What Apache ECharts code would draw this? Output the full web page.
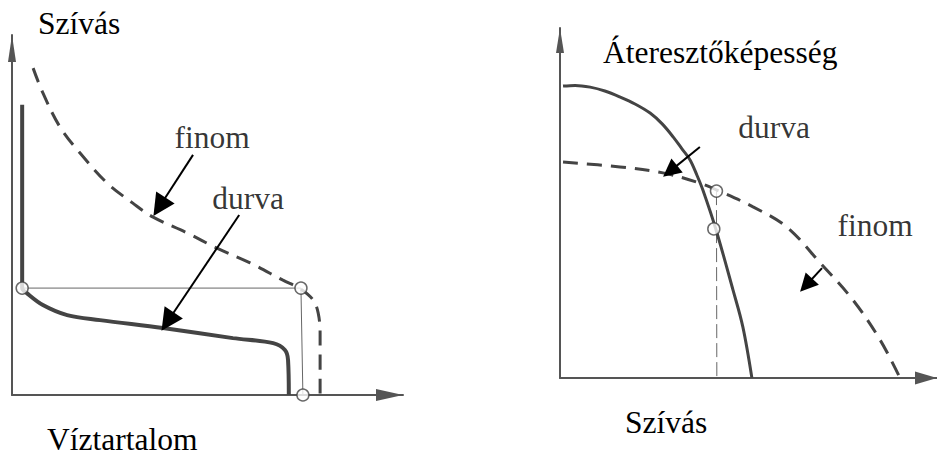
<!DOCTYPE html>
<html>
<head>
<meta charset="utf-8">
<script src="https://cdn.jsdelivr.net/npm/echarts@6/dist/echarts.min.js"></script>
<style>
  html, body { margin: 0; padding: 0; background: #fff; }
  #main { width: 937px; height: 455px; }
</style>
</head>
<body>
<div id="main"></div>
<script>
// both panels use 0..100 along each axis (schematic units)

// left panel: Szívás vs Víztartalom
var leftDurva = [[2.6, 80.6], [2.6, 29.7], [3.8, 28.3], [7.9, 25.0], [14.1, 22.2], [22.5, 20.8],
  [38.6, 18.6], [56.5, 15.8], [66.8, 14.4], [69.8, 12.5], [70.6, 9.7], [70.8, 0]];
var leftFinom = [[5.4, 90.8], [7.9, 83.9], [12.3, 74.4], [17.4, 67.2], [24.3, 58.9], [30.9, 53.3],
  [36.1, 49.4], [44.8, 45.0], [52.4, 40.8], [60.9, 36.7], [69.3, 31.9], [73.9, 29.4],
  [77.0, 26.4], [78.3, 22.8], [78.8, 17.2], [78.8, 0]];
var leftGuideH = [[2.6, 29.7], [73.9, 29.7]];
var leftGuideV = [[73.9, 29.7], [74.4, 0]];
var leftPoints = [[2.6, 29.7], [73.9, 29.7], [74.4, 0]];

// right panel: Áteresztőképesség vs Szívás
var rightDurva = [[0.8, 83.4], [4.0, 83.6], [8.0, 83.1], [11.9, 82.0], [15.9, 80.3], [19.9, 78.3],
  [23.9, 75.7], [27.1, 72.6], [30.0, 68.9], [32.4, 65.4], [34.5, 62.3], [36.3, 58.0],
  [37.9, 53.7], [41.4, 42.3], [45.9, 25.1], [48.5, 14.6], [50.9, 0]];
var rightFinom = [[0.8, 61.7], [15.9, 60.3], [27.3, 58.6], [37.1, 55.7], [41.6, 53.7], [51.2, 48.9],
  [60.2, 43.1], [69.0, 32.9], [77.7, 22.3], [84.9, 10.9], [90.2, 0]];
var rightGuideV = [[41.5, 53.4], [41.6, 0]];
var rightPoints = [[41.5, 53.4], [40.8, 42.6]];

// annotation labels and arrows [from, arrow-head]
var leftLabels = [['finom', 51.2, 71.4], ['durva', 60.4, 54.7]];
var leftArrows = [[[46.3, 66.7], [37.7, 52.3]], [[58.1, 50.0], [39.8, 20.4]]];
var rightLabels = [['durva', 56.8, 71.7], ['finom', 83.6, 43.7]];
var rightArrows = [[[37.1, 66.0], [29.2, 59.1]], [[69.5, 31.4], [65.3, 26.5]]];

var FONT = 'Liberation Serif';
var FONT_SIZE = 31.5;
var INK = '#444';

function axis(gridIndex, arrowW, arrowH) {
  return {
    type: 'value', gridIndex: gridIndex, min: 0, max: 100,
    axisLine: { show: true, onZero: false, symbol: ['none', 'triangle'],
      symbolSize: [arrowW, arrowH], symbolOffset: [0, -arrowH / 2],
      lineStyle: { color: '#555', width: 2 } },
    axisTick: { show: false }, axisLabel: { show: false }, splitLine: { show: false }
  };
}

function curve(idx, data, width, dashed) {
  return {
    type: 'line', xAxisIndex: idx, yAxisIndex: idx, data: data, smooth: 0.35,
    symbol: 'none', silent: true,
    lineStyle: { color: INK, width: width, type: dashed ? [15, 9] : 'solid' }
  };
}

function guide(idx, data, dashed) {
  return {
    type: 'line', xAxisIndex: idx, yAxisIndex: idx, data: data, symbol: 'none', silent: true,
    lineStyle: { color: '#666', width: 1, type: dashed ? [14, 5] : 'solid' }
  };
}

function circles(idx, data) {
  return {
    type: 'scatter', xAxisIndex: idx, yAxisIndex: idx, data: data, symbolSize: 12, z: 5,
    itemStyle: { color: '#fff', borderColor: INK, borderWidth: 1.5 }
  };
}

function labels(idx, list) {
  return {
    type: 'scatter', xAxisIndex: idx, yAxisIndex: idx, symbolSize: 1, silent: true,
    itemStyle: { color: 'transparent' },
    data: list.map(function (l) { return { name: l[0], value: [l[1], l[2]] }; }),
    label: { show: true, position: 'inside', formatter: '{b}',
      fontFamily: FONT, fontSize: FONT_SIZE, color: '#000' }
  };
}

function arrows(idx, list, size) {
  return {
    type: 'lines', coordinateSystem: 'cartesian2d', xAxisIndex: idx, yAxisIndex: idx,
    symbol: ['none', 'triangle'], symbolSize: size, silent: true, z: 6,
    lineStyle: { color: '#000', width: 2, opacity: 1 },
    data: list.map(function (a) { return { coords: a }; })
  };
}

function title(text, x, y) {
  return { type: 'text', x: x, y: y,
    style: { text: text, fontFamily: FONT, fontSize: FONT_SIZE, fill: '#000', verticalAlign: 'middle' } };
}

var chart = echarts.init(document.getElementById('main'), null, { renderer: 'svg' });
chart.setOption({
  animation: false,
  backgroundColor: '#fff',
  grid: [
    { left: 12, top: 35, width: 391, height: 360 },
    { left: 560, top: 28, width: 377, height: 350 }
  ],
  xAxis: [axis(0, 12, 27), axis(1, 13, 22)],
  yAxis: [axis(0, 8, 27), axis(1, 8, 25)],
  graphic: [
    title('Szívás', 38, 23),
    title('Víztartalom', 47, 439),
    title('Áteresztőképesség', 603, 52),
    title('Szívás', 625, 422)
  ],
  series: [
    guide(0, leftGuideH, false),
    guide(0, leftGuideV, false),
    curve(0, leftDurva, 4, false),
    curve(0, leftFinom, 3, true),
    circles(0, leftPoints),
    labels(0, leftLabels),
    arrows(0, leftArrows, [14, 22]),
    guide(1, rightGuideV, true),
    curve(1, rightDurva, 3, false),
    curve(1, rightFinom, 3, true),
    circles(1, rightPoints),
    labels(1, rightLabels),
    arrows(1, rightArrows, [12, 18])
  ]
});
</script>
</body>
</html>
